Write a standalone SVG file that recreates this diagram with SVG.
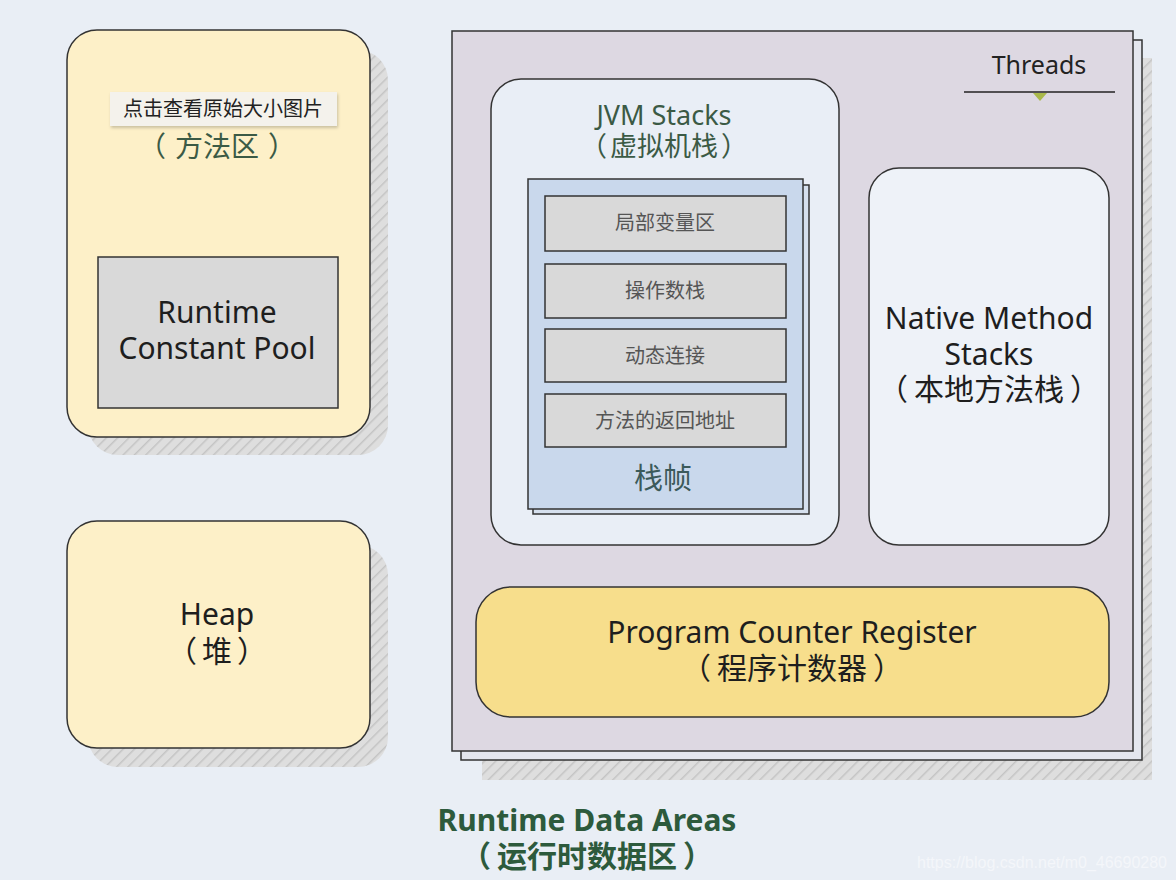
<svg xmlns="http://www.w3.org/2000/svg" width="1176" height="880" viewBox="0 0 1176 880">
<defs>
<pattern id="hatch" width="8" height="8" patternUnits="userSpaceOnUse" patternTransform="rotate(45)">
<rect width="8" height="8" fill="#dedede"/>
<line x1="0" y1="0" x2="0" y2="8" stroke="#c4c4c4" stroke-width="3"/>
</pattern>
<filter id="tip" x="-10%" y="-20%" width="120%" height="150%">
<feDropShadow dx="1" dy="2" stdDeviation="1.5" flood-color="#000" flood-opacity="0.2"/>
</filter>
</defs>
<style>
text{font-family:"Noto Sans","Noto Sans CJK SC",sans-serif;text-anchor:middle}
.big{font-size:30px;fill:#1e1e1e}
.grn{font-size:27px;fill:#3b5a45}
.slot{fill:#d9d9d9;stroke:#333;stroke-width:1.5}
.slt{font-size:20px;fill:#555}
.edge{stroke:#333;stroke-width:1.5}
.cap{font-size:30px;font-weight:bold;fill:#2d5a3c}
</style>
<rect width="1176" height="880" fill="#e9eef5"/>

<g id="method-area">
<rect x="88" y="50" width="300" height="405" rx="30" fill="url(#hatch)"/>
<rect x="67" y="30" width="303" height="407" rx="30" fill="#fdf0c8" class="edge"/>
<text x="217" y="157" class="grn" style="font-size:28px">（<tspan dx="9">方法区</tspan><tspan dx="9">）</tspan></text>
</g>

<g id="runtime-constant-pool">
<rect x="98" y="257" width="240" height="151" class="slot"/>
<text x="217" y="323" class="big">Runtime</text>
<text x="217" y="359" class="big">Constant Pool</text>
</g>

<g id="tooltip">
<rect x="110" y="92" width="227" height="34" fill="#f4f2ec" filter="url(#tip)"/>
<text x="223" y="116" style="font-size:20px;fill:#222">点击查看原始大小图片</text>
</g>

<g id="heap">
<rect x="88" y="545" width="300" height="222" rx="30" fill="url(#hatch)"/>
<rect x="67" y="521" width="303" height="227" rx="30" fill="#fdf0c8" class="edge"/>
<text x="217" y="625" class="big">Heap</text>
<text x="217" y="662" class="big">（<tspan dx="5">堆</tspan><tspan dx="5">）</tspan></text>
</g>

<g id="threads">
<rect x="482" y="58" width="670" height="722" fill="url(#hatch)"/>
<rect x="461" y="40" width="681" height="720" fill="#e4e6ee" class="edge"/>
<rect x="452" y="31" width="681" height="720" fill="#ddd8e2" class="edge"/>
<text x="1039" y="74" style="font-size:25px;fill:#222">Threads</text>
<line x1="964" y1="92" x2="1115" y2="92" stroke="#222" stroke-width="1.5"/>
<polygon points="1033,93 1047,93 1040,101" fill="#a9b84a"/>
</g>

<g id="jvm-stacks">
<rect x="491" y="79" width="348" height="466" rx="30" fill="#e9eef6" class="edge"/>
<text x="664" y="125" class="grn">JVM Stacks</text>
<text x="664" y="156" class="grn">（<tspan dx="3">虚拟机栈</tspan><tspan dx="3">）</tspan></text>
</g>

<g id="stack-frame">
<rect x="533" y="185" width="276" height="329" fill="#d6e0ee" class="edge"/>
<rect x="528" y="179" width="275" height="330" fill="#c9d8ec" class="edge"/>
<rect x="545" y="196" width="241" height="55" class="slot"/>
<text x="665" y="230" class="slt">局部变量区</text>
<rect x="545" y="264" width="241" height="54" class="slot"/>
<text x="665" y="298" class="slt">操作数栈</text>
<rect x="545" y="329" width="241" height="53" class="slot"/>
<text x="665" y="363" class="slt">动态连接</text>
<rect x="545" y="394" width="241" height="53" class="slot"/>
<text x="665" y="428" class="slt">方法的返回地址</text>
<text x="663" y="489" style="font-size:29px;fill:#3b5a5a">栈帧</text>
</g>

<g id="native-method-stacks">
<rect x="869" y="168" width="240" height="377" rx="30" fill="#eef2f8" class="edge"/>
<text x="989" y="329" class="big">Native Method</text>
<text x="989" y="365" class="big">Stacks</text>
<text x="989" y="400" class="big">（<tspan dx="6">本地方法栈</tspan><tspan dx="6">）</tspan></text>
</g>

<g id="program-counter-register">
<rect x="476" y="587" width="633" height="130" rx="35" fill="#f7de8c" class="edge"/>
<text x="792" y="643" class="big">Program Counter Register</text>
<text x="792" y="679" class="big">（<tspan dx="6">程序计数器</tspan><tspan dx="6">）</tspan></text>
</g>

<g id="connectors"></g>

<g id="caption">
<text x="587" y="831" class="cap">Runtime Data Areas</text>
<text x="587" y="867" class="cap">（<tspan dx="6">运行时数据区</tspan><tspan dx="6">）</tspan></text>
</g>

<text x="1042" y="868" style="font-size:16px;fill:#f4f6fa;font-family:'Liberation Sans',sans-serif">https://blog.csdn.net/m0_46690280</text>
</svg>
